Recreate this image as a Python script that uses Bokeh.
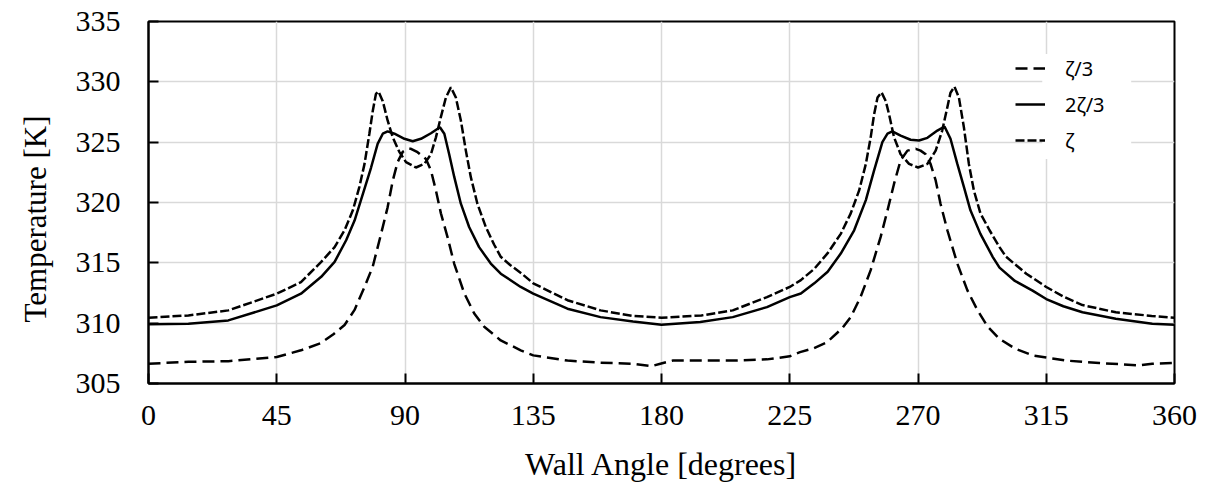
from bokeh.plotting import figure
from bokeh.models import Legend, LegendItem, FixedTicker, BoxAnnotation, Range1d, Title
from bokeh.embed import file_html
from bokeh.resources import INLINE

# ---- data ----
x_ticks = [0, 45, 90, 135, 180, 225, 270, 315, 360]
y_ticks = [305, 310, 315, 320, 325, 330, 335]

# zeta/3 (long dash)
ang_z3 = [0, 14, 28, 45, 53.5, 60.5, 65, 68.8, 72.3, 75.8, 78.7, 81.6, 83.9, 85.7, 87.4,
          89.2, 91.0, 92.1, 94.4, 97.35, 99.1, 100.85, 102.6, 104.9, 107.3, 110.8, 114.3,
          117.8, 123.6, 130.6, 135, 147, 158.6, 170, 176.6, 179.6, 184, 194, 205, 217,
          225, 228.6, 233.2, 238, 243.5, 246.4, 249.9, 253.4, 256.9, 259.3, 261.6, 263.9,
          266.3, 269.2, 270.9, 272.7, 274.4, 276.2, 277.9, 280.3, 283.8, 287.3, 290.8,
          294.5, 298.6, 304, 310.2, 321.9, 333.6, 347.6, 352.2, 360]
t_z3 = [306.64, 306.8, 306.85, 307.2, 307.75, 308.35, 309.1, 309.85, 311.1, 313.0, 314.7,
        317.4, 319.6, 321.8, 323.35, 324.2, 324.45, 324.45, 324.17, 323.6, 322.66, 321.0,
        319.1, 317.15, 314.9, 312.47, 310.8, 309.7, 308.57, 307.75, 307.33, 306.9, 306.72,
        306.64, 306.44, 306.64, 306.9, 306.9, 306.9, 307.0, 307.25, 307.6, 307.9, 308.4,
        309.6, 310.5, 312.2, 314.4, 317.15, 319.35, 321.56, 323.5, 324.3, 324.45, 324.3,
        324.0, 323.2, 321.83, 319.9, 317.7, 314.94, 312.74, 311.1, 309.7, 308.7, 307.9,
        307.33, 306.9, 306.7, 306.5, 306.64, 306.7]

# 2 zeta/3 (solid)
ang_2z3 = [0, 14, 28, 45, 53.5, 60.6, 65.3, 69.35, 72.3, 75.2, 78.1, 80.4, 82.2, 83.9, 86.3,
           89.8, 92.7, 95.6, 99.1, 102.25, 103.8, 105.5, 107.3, 109.6, 112.5, 116.0, 120.1,
           123.6, 130.6, 135, 147, 158.6, 170, 180, 193.6, 205, 217, 225, 228.9, 233.6,
           238.3, 242.9, 247.6, 251.7, 254.6, 257.5, 259.3, 261.0, 263.9, 267.4, 270.35,
           273.3, 276.8, 279.3, 281.4, 283.8, 286.1, 288.4, 291.9, 296.2, 298.6, 304,
           310.2, 315, 321, 327.7, 339.4, 352.2, 360]
t_2z3 = [309.9, 309.95, 310.23, 311.47, 312.44, 313.84, 315.08, 316.87, 318.5, 320.7, 322.9,
         324.86, 325.7, 325.9, 325.7, 325.28, 325.08, 325.28, 325.74, 326.24, 325.7, 324.0,
         322.1, 319.9, 317.97, 316.3, 314.94, 314.1, 313.0, 312.44, 311.2, 310.5, 310.14,
         309.87, 310.1, 310.5, 311.33, 312.16, 312.46, 313.3, 314.26, 315.77, 317.7, 320.2,
         322.66, 325.0, 325.7, 325.9, 325.55, 325.2, 325.14, 325.36, 325.96, 326.3, 325.28,
         323.2, 321.3, 319.35, 317.4, 315.5, 314.6, 313.5, 312.7, 312.0, 311.4, 310.9,
         310.37, 309.95, 309.87]

# zeta (short dash)
ang_z = [0, 14, 28, 45, 53.5, 60.6, 65.3, 68.8, 71.7, 74.0, 75.8, 77.5, 78.7, 79.8, 80.7,
         82.2, 83.9, 85.7, 88.0, 90.35, 93.85, 96.8, 99.1, 100.85, 102.6, 104.35, 106.1,
         107.85, 109.6, 111.35, 113.1, 115.4, 118.35, 121.3, 123.6, 127, 131, 135, 147,
         158.6, 170, 180, 194, 205, 217, 225, 228.9, 233.6, 238.3, 242.9, 246.4, 249.35,
         251.7, 253.4, 254.6, 255.8, 257.2, 258.7, 259.85, 261.6, 263.9, 266.85, 270,
         273.3, 276.2, 278.5, 280.3, 281.4, 282.8, 284.35, 286.1, 287.85, 289.6, 291.9,
         295.1, 298.6, 300.9, 308, 315, 321, 327.7, 339.4, 352, 360]
t_z = [310.45, 310.64, 311.06, 312.44, 313.4, 315.08, 316.3, 317.7, 319.35, 321.3, 323.2,
       325.7, 327.6, 329.0, 329.2, 328.4, 326.8, 325.4, 324.2, 323.35, 322.9, 323.2, 324.0,
       325.4, 327.1, 328.7, 329.55, 328.7, 326.8, 324.3, 322.1, 319.9, 317.97, 316.5, 315.5,
       314.8, 314.1, 313.3, 311.9, 311.06, 310.6, 310.45, 310.64, 311.06, 312.16, 313.0,
       313.57, 314.5, 315.8, 317.4, 319.1, 321.0, 323.2, 325.4, 327.3, 328.7, 329.13,
       328.4, 327.3, 325.4, 324.0, 323.2, 322.9, 323.2, 324.3, 325.96, 327.9, 329.1, 329.6,
       328.7, 326.24, 323.2, 321.0, 319.1, 317.7, 316.3, 315.5, 314.1, 313.0, 312.2, 311.5,
       310.9, 310.6, 310.45]

series_labels = ["ζ/3", "2ζ/3", "ζ"]
x_title = "Wall Angle [degrees]"
y_title = "Temperature [K]"

SERIF = "Liberation Serif"

p = figure(width=1210, height=489, output_backend="svg", toolbar_location=None,
           x_range=Range1d(0, 360), y_range=Range1d(305, 335),
           min_border_left=147, min_border_right=36, min_border_top=21,
           min_border_bottom=106, background_fill_color="white",
           border_fill_color="white")

p.outline_line_color = "black"
p.outline_line_width = 2
p.outline_line_alpha = 1

for ax in (p.xaxis[0], p.yaxis[0]):
    ax.axis_line_width = 2
    ax.axis_line_color = "black"
    ax.major_tick_in = 10
    ax.major_tick_out = 0
    ax.major_tick_line_width = 2
    ax.major_tick_line_color = "black"
    ax.minor_tick_line_color = None
    ax.major_label_text_font = SERIF
    ax.major_label_text_font_size = "30px"
    ax.major_label_text_color = "black"
    ax.axis_label_text_font = SERIF
    ax.axis_label_text_font_style = "normal"
    ax.axis_label_text_color = "black"

p.xaxis.ticker = FixedTicker(ticks=x_ticks)
p.yaxis.ticker = FixedTicker(ticks=y_ticks)
p.xaxis.axis_label = x_title
p.xaxis.axis_label_text_font_size = "32px"
p.xaxis.major_label_standoff = 22
p.xaxis.axis_label_standoff = 18
p.yaxis.major_label_standoff = 28

# y title as a side title so it can sit lower, as in the reference
p.add_layout(Title(text=y_title, align="left", offset=61, standoff=35,
                   vertical_align="top",
                   text_font=SERIF, text_font_size="31px", text_font_style="normal",
                   text_color="black"), "left")

for g in (p.xgrid[0], p.ygrid[0]):
    g.grid_line_color = "#d9d9d9"
    g.grid_line_width = 1.5

# white backing behind legend labels (as in the reference)
p.add_layout(BoxAnnotation(left=313.6, right=344.8, bottom=323.6, top=332.3,
                           fill_color="white", fill_alpha=1, line_alpha=0,
                           level="underlay"))

r1 = p.line(ang_z3, t_z3, line_color="black", line_width=2.5, line_dash="12 6")
r2 = p.line(ang_2z3, t_2z3, line_color="black", line_width=2.5)
r3 = p.line(ang_z, t_z, line_color="black", line_width=2.5, line_dash="9 3")

legend = Legend(items=[LegendItem(label=series_labels[0], renderers=[r1]),
                       LegendItem(label=series_labels[1], renderers=[r2]),
                       LegendItem(label=series_labels[2], renderers=[r3])],
                location=(867, 228), background_fill_alpha=0, border_line_alpha=0,
                padding=0, margin=0, glyph_width=30, glyph_height=30,
                label_height=30, spacing=6, label_standoff=20,
                label_text_font="Noto Sans", label_text_font_size="20px",
                label_text_color="black")
p.add_layout(legend)

open("out.html", "w").write(file_html(p, INLINE))
